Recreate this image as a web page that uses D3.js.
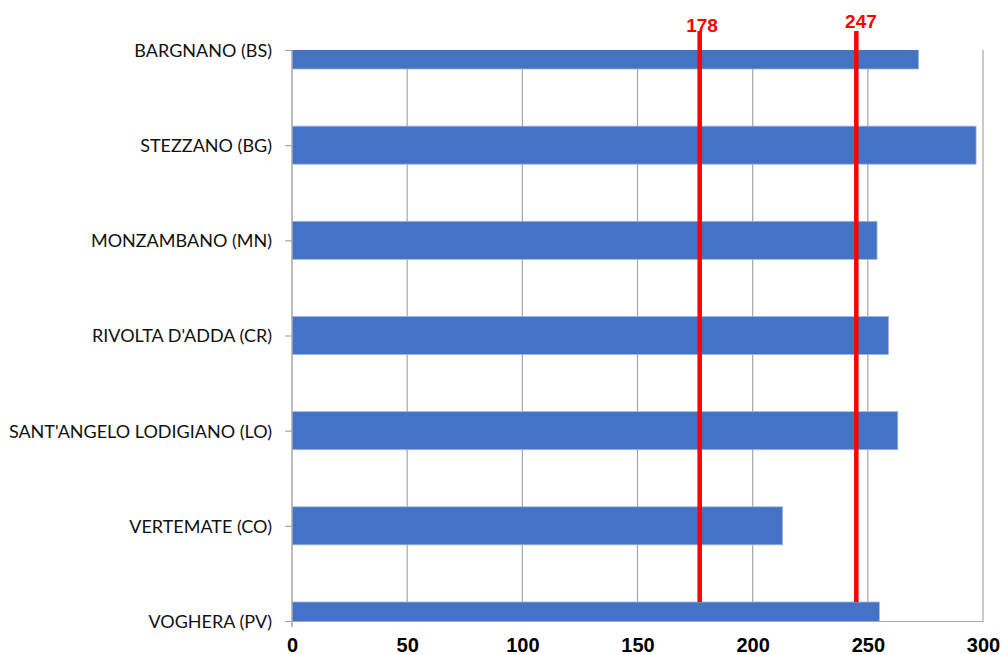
<!DOCTYPE html>
<html>
<head>
<meta charset="utf-8">
<script src="https://cdn.jsdelivr.net/npm/d3@7"></script>
<style>
  html, body { margin: 0; padding: 0; background: #fff; }
  svg { display: block; }
</style>
</head>
<body>
<svg id="chart" width="1001" height="655"></svg>
<script>
// ---- data ----
const categories = [
  "BARGNANO (BS)",
  "STEZZANO (BG)",
  "MONZAMBANO (MN)",
  "RIVOLTA D'ADDA (CR)",
  "SANT'ANGELO LODIGIANO (LO)",
  "VERTEMATE (CO)",
  "VOGHERA (PV)"
];
const values = [272, 297, 254, 259, 263, 213, 255];
const xTicks = [0, 50, 100, 150, 200, 250, 300];
const refLabels = ["178", "247"];
const refLabelValues = [178, 247];
const refLinePositions = [177, 245];

// ---- layout ----
const W = 1001, H = 655;
const margin = { left: 292, right: 18, top: 50, bottom: 34 };
const svg = d3.select("#chart");
const x = d3.scaleLinear().domain([0, 300]).range([margin.left, W - margin.right]);
const y = d3.scalePoint().domain(categories).range([margin.top, H - margin.bottom]).padding(0);
const barH = 38;
const gridColor = "#a6a6a6";

// clip
svg.append("defs").append("clipPath").attr("id", "plotClip")
  .append("rect")
  .attr("x", x(0)).attr("y", y.range()[0])
  .attr("width", x(300) - x(0)).attr("height", y.range()[1] - y.range()[0]);

// gridlines
svg.append("g").selectAll("line").data(xTicks.slice(1)).join("line")
  .attr("x1", d => x(d)).attr("x2", d => x(d))
  .attr("y1", y.range()[0]).attr("y2", y.range()[1])
  .attr("stroke", gridColor).attr("stroke-width", 1.2);

// bars
svg.append("g").attr("clip-path", "url(#plotClip)")
  .selectAll("rect").data(categories).join("rect")
  .attr("x", x(0))
  .attr("y", d => y(d) - barH / 2)
  .attr("width", (d, i) => x(values[i]) - x(0))
  .attr("height", barH)
  .attr("fill", "#4472C4")
  .attr("stroke", "#9db5e2").attr("stroke-width", 0.8);

// bottom axis
const xAxis = svg.append("g")
  .attr("transform", `translate(0,${y.range()[1]})`)
  .call(d3.axisBottom(x).tickValues(xTicks).tickSize(0).tickPadding(0));
xAxis.select(".domain").attr("stroke", gridColor).attr("stroke-width", 1.2);
xAxis.selectAll("text")
  .attr("dy", null).attr("y", 31)
  .style("font-family", "'Liberation Sans', Arial, sans-serif")
  .style("font-weight", "bold").style("font-size", "20px").attr("fill", "#000");

// left axis
const yAxis = svg.append("g")
  .attr("transform", `translate(${x(0)},0)`)
  .call(d3.axisLeft(y).tickSize(7).tickPadding(13));
yAxis.select(".domain").remove();
yAxis.append("line")
  .attr("x1", 0).attr("x2", 0)
  .attr("y1", y.range()[0]).attr("y2", y.range()[1] + 6)
  .attr("stroke", gridColor).attr("stroke-width", 1.5);
yAxis.selectAll(".tick line").attr("stroke", gridColor).attr("stroke-width", 1.2);
yAxis.selectAll("text")
  .attr("dy", "0.36em")
  .style("font-family", "Lato, 'Open Sans', sans-serif")
  .style("font-size", "18px").attr("fill", "#111");

// reference lines
const lastCat = categories[categories.length - 1];
svg.append("g").selectAll("line").data(refLinePositions).join("line")
  .attr("x1", d => x(d)).attr("x2", d => x(d))
  .attr("y1", 31).attr("y2", y(lastCat) - barH / 2)
  .attr("stroke", "#ff0000").attr("stroke-width", 4.5);

const labelY = [32, 28];
svg.append("g").selectAll("text").data(refLabels).join("text")
  .attr("x", (d, i) => x(refLabelValues[i]))
  .attr("y", (d, i) => labelY[i])
  .attr("text-anchor", "middle")
  .style("font-family", "'Liberation Sans', Arial, sans-serif")
  .style("font-weight", "bold").style("font-size", "19px")
  .attr("fill", "#ff0000")
  .text(d => d);
</script>
</body>
</html>
